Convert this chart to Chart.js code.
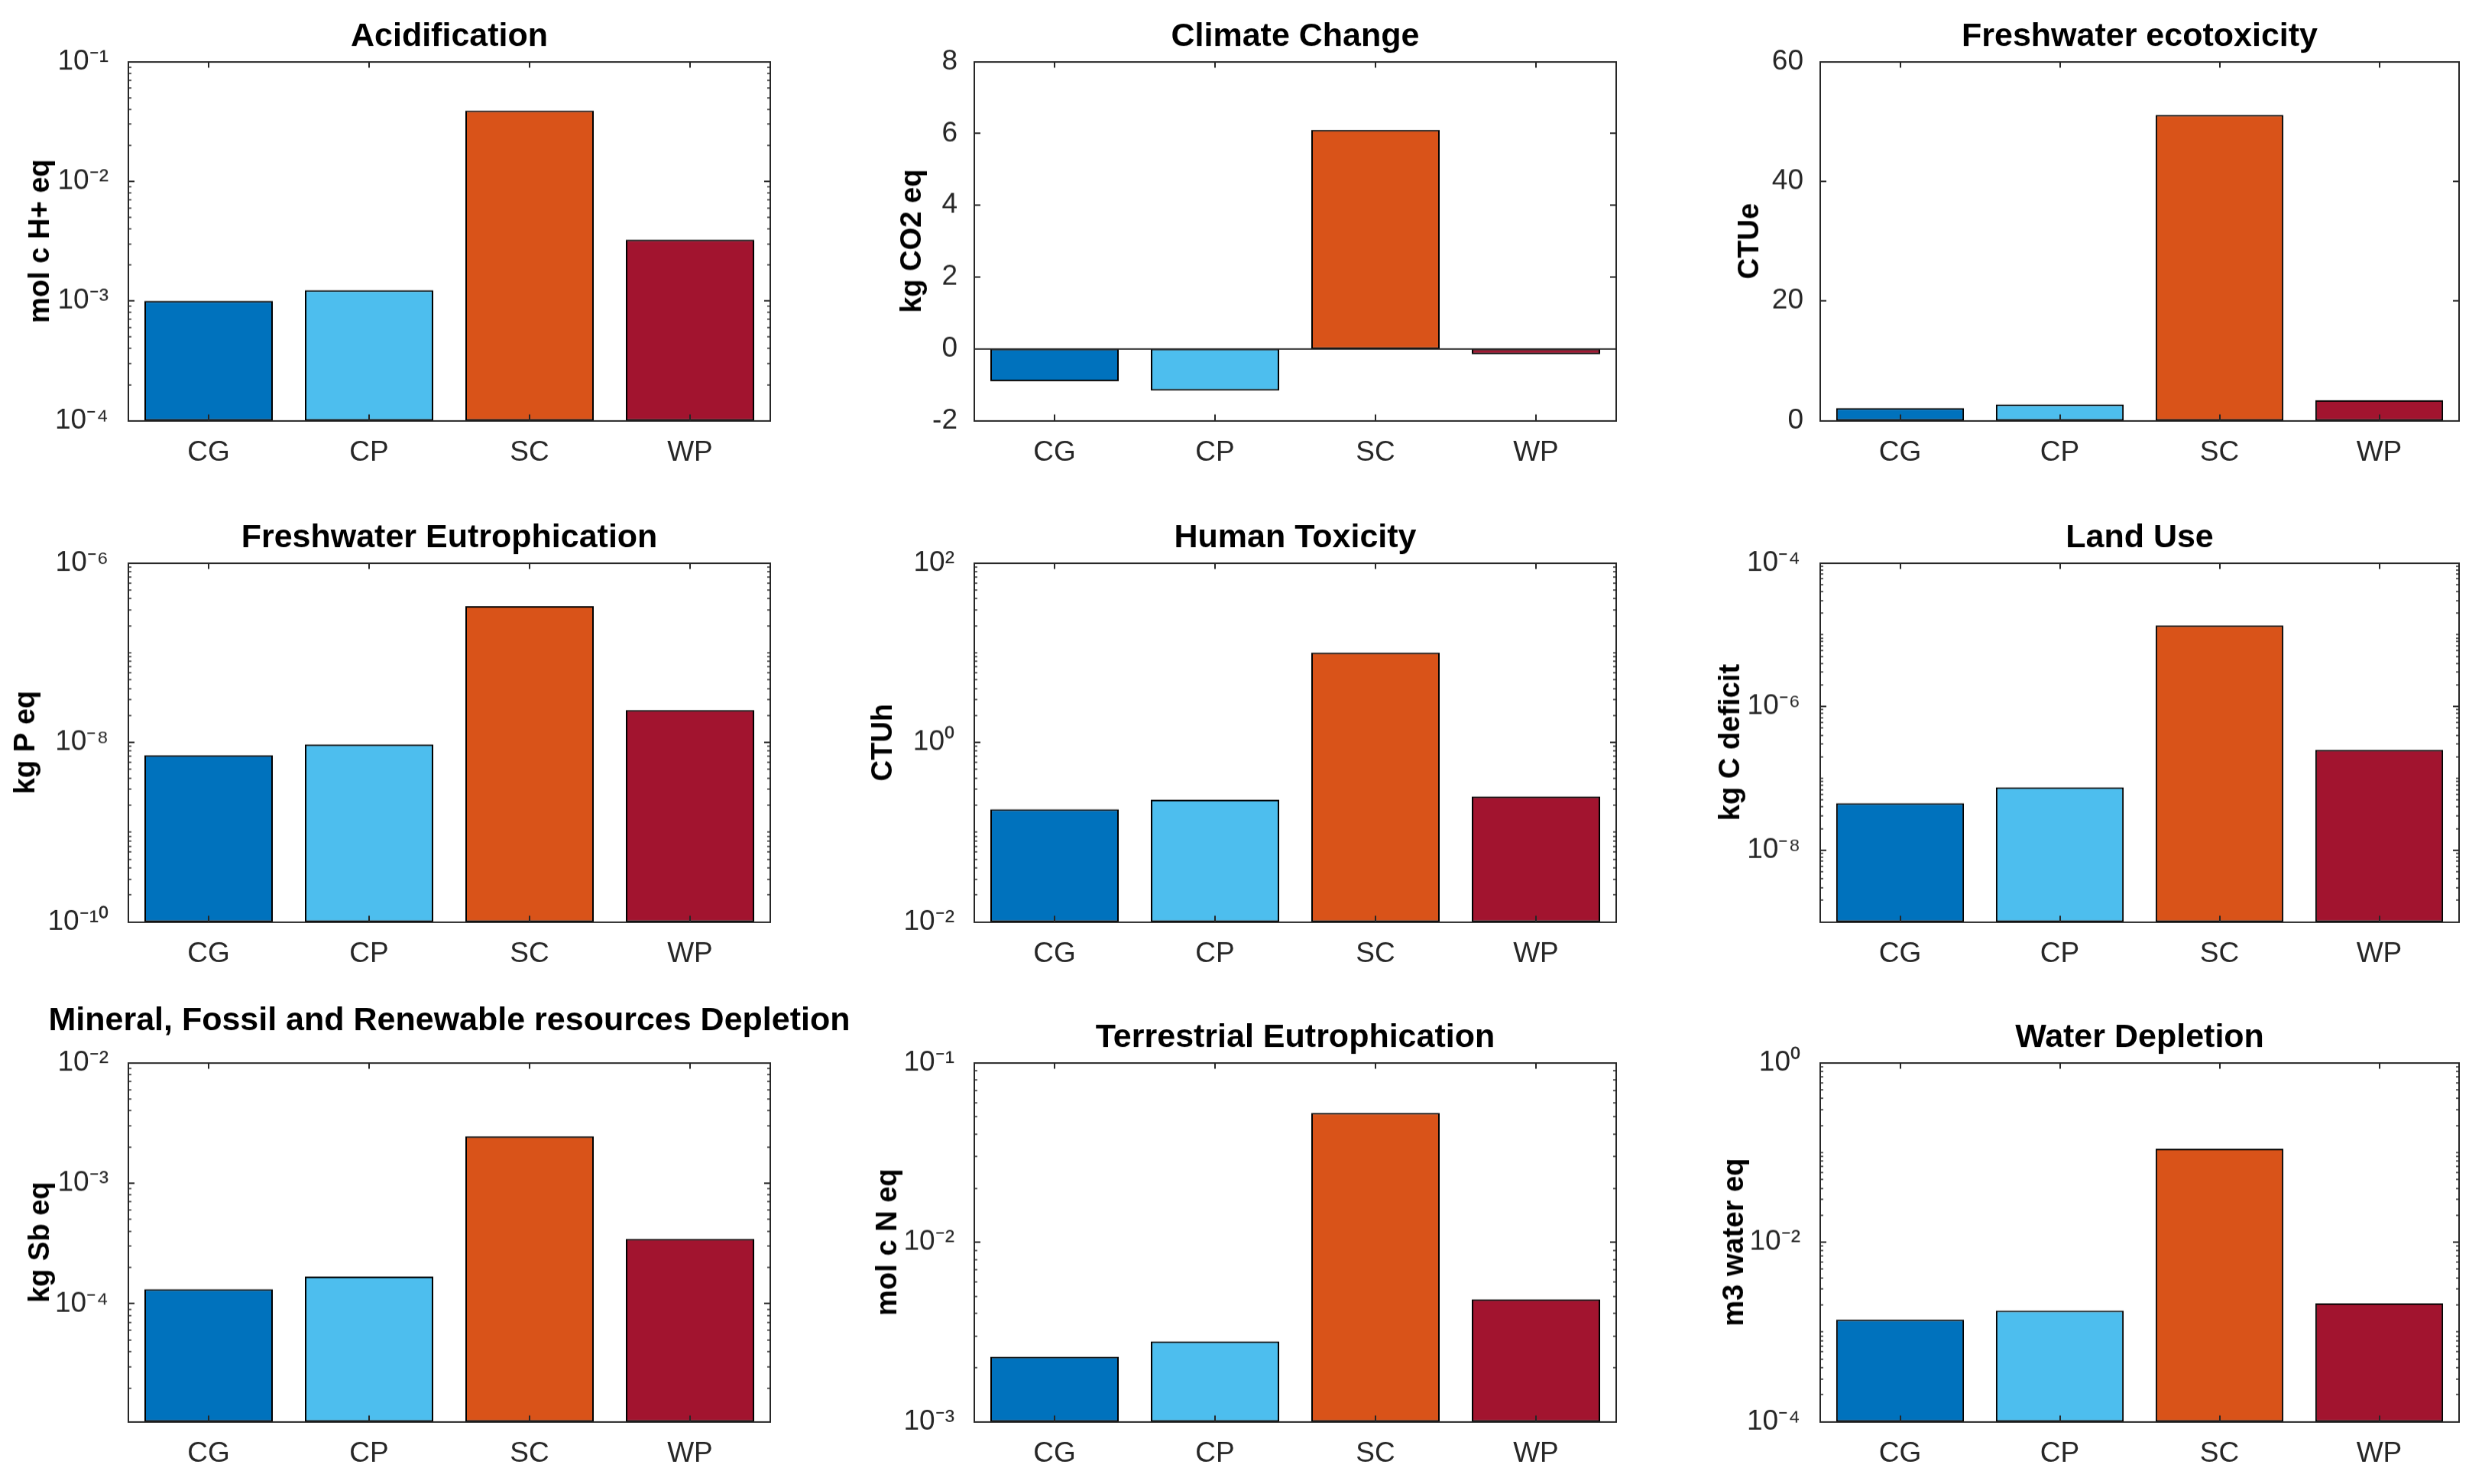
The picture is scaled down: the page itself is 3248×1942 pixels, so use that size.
<!DOCTYPE html>
<html>
<head>
<meta charset="utf-8">
<script src="https://cdn.jsdelivr.net/npm/chart.js@4.4.1/dist/chart.umd.min.js"></script>
<style>
    html, body { margin: 0; padding: 0; background: #ffffff; overflow: hidden; }
    #fig { position: relative; width: 3248px; height: 1942px; overflow: hidden; background: #ffffff; }
    .panel { position: absolute; }
</style>
</head>
<body>
<div id="fig"></div>
<script>
// categories and values
const categories = ['CG', 'CP', 'SC', 'WP'];

const acidification = [1.0e-3, 1.23e-3, 3.9e-2, 3.25e-3];
const climateChange = [-0.9, -1.16, 6.1, -0.15];
const freshwaterEcotoxicity = [2.1, 2.7, 51.1, 3.4];
const freshwaterEutrophication = [7.2e-9, 9.5e-9, 3.3e-7, 2.3e-8];
const humanToxicity = [0.18, 0.23, 10.0, 0.25];
const landUse = [4.5e-8, 7.5e-8, 1.35e-5, 2.5e-7];
const resourceDepletion = [1.32e-4, 1.68e-4, 2.45e-3, 3.45e-4];
const terrestrialEutrophication = [2.3e-3, 2.8e-3, 5.25e-2, 4.8e-3];
const waterDepletion = [1.37e-3, 1.73e-3, 0.11, 2.08e-3];

// y tick labels of each panel
const acidTicks = [1e-4, 1e-3, 1e-2, 1e-1];
const climateTicks = [-2, 0, 2, 4, 6, 8];
const ecotoxTicks = [0, 20, 40, 60];
const fwEutroTicks = [1e-10, 1e-8, 1e-6];
const humanTicks = [1e-2, 1e0, 1e2];
const landTicks = [1e-8, 1e-6, 1e-4];
const resourceTicks = [1e-4, 1e-3, 1e-2];
const terrTicks = [1e-3, 1e-2, 1e-1];
const waterTicks = [1e-4, 1e-2, 1e0];

const barColors = ['#0072BD', '#4DBEEE', '#D95319', '#A2142F'];
const FONT = "'Liberation Sans', Arial, Helvetica, sans-serif";
const AXIS_COLOR = '#262626';

// layout of the 3x3 grid (axes boxes)
const colLeft = [168, 1275, 2382];
const colWidth = [840, 840, 836];
const rowTop = [81, 737, 1391];
const axesHeight = 469;
const yAxisSpace = 168;
const xAxisSpace = 100;
const titleSize = 43;

const panels = [
    { title: 'Acidification', ylabel: 'mol c H+ eq', data: acidification, type: 'logarithmic', min: 1e-4, max: 1e-1, ticks: acidTicks, labelDist: 114, gap: 7 },
    { title: 'Climate Change', ylabel: 'kg CO2 eq', data: climateChange, type: 'linear', min: -2, max: 8, ticks: climateTicks, labelDist: 80, gap: 7 },
    { title: 'Freshwater ecotoxicity', ylabel: 'CTUe', data: freshwaterEcotoxicity, type: 'linear', min: 0, max: 60, ticks: ecotoxTicks, labelDist: 91, gap: 7 },
    { title: 'Freshwater Eutrophication', ylabel: 'kg P eq', data: freshwaterEutrophication, type: 'logarithmic', min: 1e-10, max: 1e-6, ticks: fwEutroTicks, labelDist: 133, gap: 7 },
    { title: 'Human Toxicity', ylabel: 'CTUh', data: humanToxicity, type: 'logarithmic', min: 1e-2, max: 1e2, ticks: humanTicks, labelDist: 118, gap: 7 },
    { title: 'Land Use', ylabel: 'kg C deficit', data: landUse, type: 'logarithmic', min: 1e-9, max: 1e-4, ticks: landTicks, labelDist: 116, gap: 7 },
    { title: 'Mineral, Fossil and Renewable resources Depletion', ylabel: 'kg Sb eq', data: resourceDepletion, type: 'logarithmic', min: 1.05e-5, max: 1e-2, ticks: resourceTicks, labelDist: 114, gap: 29 },
    { title: 'Terrestrial Eutrophication', ylabel: 'mol c N eq', data: terrestrialEutrophication, type: 'logarithmic', min: 1e-3, max: 1e-1, ticks: terrTicks, labelDist: 112, gap: 7 },
    { title: 'Water Depletion', ylabel: 'm3 water eq', data: waterDepletion, type: 'logarithmic', min: 1e-4, max: 1e0, ticks: waterTicks, labelDist: 111, gap: 7 }
];

const SUP = { '-': '\u207B', '0': '\u2070', '1': '\u00B9', '2': '\u00B2', '3': '\u00B3', '4': '\u2074',
    '5': '\u2075', '6': '\u2076', '7': '\u2077', '8': '\u2078', '9': '\u2079' };

function powerLabel(v) {
    const e = String(Math.round(Math.log10(v)));
    return '10' + e.split('').map(c => SUP[c]).join('');
}

// MATLAB-like box: frame, inward ticks on all sides, minor log ticks, zero baseline
const matlabAxes = {
    id: 'matlabAxes',
    afterDraw(chart) {
        const { ctx, chartArea: a } = chart;
        const x = chart.scales.x;
        const y = chart.scales.y;
        const line = (x1, y1, x2, y2) => {
            ctx.beginPath();
            ctx.moveTo(x1, y1);
            ctx.lineTo(x2, y2);
            ctx.stroke();
        };
        ctx.save();
        ctx.strokeStyle = AXIS_COLOR;
        ctx.lineWidth = 2;
        if (y.min < 0) {
            const py = Math.round(y.getPixelForValue(0));
            line(a.left, py, a.right, py);
        }
        x.ticks.forEach((t, i) => {
            const px = Math.round(x.getPixelForTick(i));
            line(px, a.bottom, px, a.bottom - 8);
            line(px, a.top, px, a.top + 8);
        });
        y.ticks.forEach(t => {
            const py = Math.round(y.getPixelForValue(t.value));
            line(a.left, py, a.left + 8, py);
            line(a.right, py, a.right - 8, py);
        });
        if (y.type === 'logarithmic') {
            ctx.lineWidth = 1.5;
            const majors = y.ticks.map(t => t.value);
            const k0 = Math.floor(Math.log10(y.min));
            const k1 = Math.ceil(Math.log10(y.max));
            for (let k = k0; k <= k1; k++) {
                for (let m = 1; m <= 9; m++) {
                    const v = m * Math.pow(10, k);
                    if (v <= y.min * 1.0001 || v >= y.max * 0.9999) continue;
                    if (majors.some(mv => Math.abs(mv - v) / mv < 1e-6)) continue;
                    const py = Math.round(y.getPixelForValue(v));
                    line(a.left, py, a.left + 4, py);
                    line(a.right, py, a.right - 4, py);
                }
            }
        }
        ctx.lineWidth = 2;
        ctx.strokeRect(Math.round(a.left), Math.round(a.top), Math.round(a.width), Math.round(a.height));
        ctx.restore();
    }
};

const fig = document.getElementById('fig');

panels.forEach((p, idx) => {
    const row = Math.floor(idx / 3);
    const col = idx % 3;
    const hTop = 10 + titleSize * 1.2 + p.gap;
    const w = colWidth[col] + 2 * yAxisSpace;
    const h = hTop + axesHeight + xAxisSpace;

    const div = document.createElement('div');
    div.className = 'panel';
    div.style.left = (colLeft[col] - yAxisSpace) + 'px';
    div.style.top = (rowTop[row] - hTop) + 'px';
    div.style.width = w + 'px';
    div.style.height = h + 'px';
    const canvas = document.createElement('canvas');
    div.appendChild(canvas);
    fig.appendChild(div);

    const isLog = p.type === 'logarithmic';

    new Chart(canvas.getContext('2d'), {
        type: 'bar',
        data: {
            labels: categories,
            datasets: [{
                data: p.data,
                backgroundColor: barColors,
                borderColor: '#000000',
                borderWidth: 2,
                borderSkipped: false,
                barPercentage: 0.8,
                categoryPercentage: 1.0
            }]
        },
        options: {
            responsive: true,
            maintainAspectRatio: false,
            devicePixelRatio: 1,
            animation: false,
            layout: { padding: 0 },
            plugins: {
                legend: { display: false },
                tooltip: { enabled: false },
                title: {
                    display: true,
                    text: p.title,
                    color: '#000000',
                    font: { family: FONT, size: titleSize, weight: 'bold', lineHeight: 1.2 },
                    padding: { top: 10, bottom: p.gap }
                }
            },
            scales: {
                x: {
                    grid: { display: false },
                    border: { display: false },
                    ticks: {
                        color: AXIS_COLOR,
                        padding: 12,
                        maxRotation: 0,
                        autoSkip: false,
                        font: { family: FONT, size: 37, lineHeight: 1.2 }
                    },
                    afterFit: scale => { scale.height = xAxisSpace; }
                },
                y: {
                    type: p.type,
                    min: p.min,
                    max: p.max,
                    grid: { display: false },
                    border: { display: false },
                    ticks: {
                        color: AXIS_COLOR,
                        padding: isLog ? 18 : 14,
                        autoSkip: false,
                        font: { family: FONT, size: 37, lineHeight: 1.2 },
                        callback: v => isLog ? powerLabel(v) : String(v)
                    },
                    afterBuildTicks: scale => { scale.ticks = p.ticks.map(v => ({ value: v })); },
                    afterFit: scale => { scale.width = yAxisSpace; },
                    title: {
                        display: true,
                        text: p.ylabel,
                        color: '#000000',
                        font: { family: FONT, size: 38, weight: 'bold', lineHeight: 1.2 },
                        padding: { top: yAxisSpace - p.labelDist - 22.8, bottom: 0 }
                    }
                },
                // empty right-hand box so the title centres over the axes
                yRight: {
                    position: 'right',
                    grid: { display: false },
                    border: { display: false },
                    ticks: { display: false },
                    afterFit: scale => { scale.width = yAxisSpace; }
                }
            }
        },
        plugins: [matlabAxes]
    });
});
</script>
</body>
</html>
